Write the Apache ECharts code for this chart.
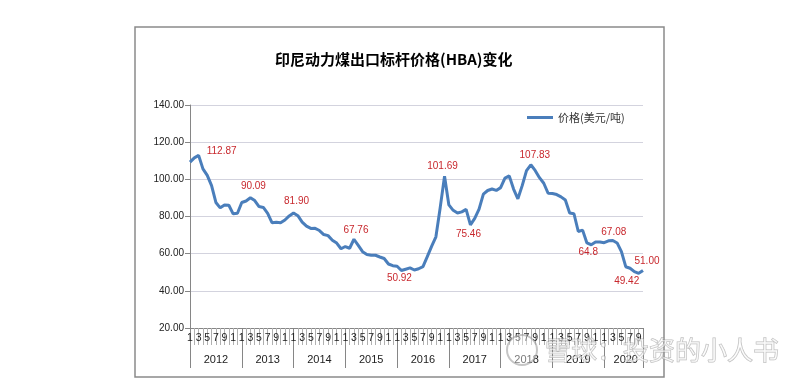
<!DOCTYPE html>
<html><head><meta charset="utf-8">
<script src="https://cdn.jsdelivr.net/npm/echarts@6/dist/echarts.min.js"></script>
<style>html,body{margin:0;padding:0;background:#fff}#c{width:800px;height:380px}</style>
</head><body><div id="c"></div>
<script>
const titleText = '印尼动力煤出口标杆价格(HBA)变化';
const seriesName = '价格(美元/吨)';
const years = ['2012','2013','2014','2015','2016','2017','2018','2019','2020'];
const monthNames = ['1','2','3','4','5','6','7','8','9','10','11','12'];
// month tick labels as they appear under the axis
const monthTickLabels = ['1','','3','','5','','7','','9','','1',''];
const price2012 = [109.29,111.58,112.87,105.61,102.12,96.65,87.56,84.65,86.21,86.04,81.44,81.75];
const price2013 = [87.55,88.35,90.09,88.56,85.33,84.87,81.69,76.70,76.89,76.61,78.13,80.31];
const price2014 = [81.90,80.44,77.01,74.81,73.60,73.64,72.45,70.29,69.69,67.26,65.70,62.65];
const price2015 = [63.84,62.92,67.76,64.48,61.08,59.59,59.16,59.14,58.21,57.39,54.43,53.51];
const price2016 = [53.20,50.92,51.62,52.32,51.20,51.87,53.00,58.37,63.93,69.07,84.89,101.69];
const price2017 = [86.23,83.32,81.90,82.51,83.81,75.46,78.95,83.97,92.03,93.99,94.80,94.04];
const price2018 = [95.54,100.69,101.86,94.75,89.53,96.61,104.65,107.83,104.81,100.89,97.90,92.51];
const price2019 = [92.41,91.80,90.57,88.85,81.86,81.48,71.92,72.67,65.79,64.80,66.27,66.30];
const price2020 = [65.93,66.89,67.08,65.77,61.11,52.98,52.16,50.34,49.42,51.00];
const yTicks = [20,40,60,80,100,120,140];
// annotated points: category (year-month) and shown text
const labelCats = ['2012-3','2013-3','2014-1','2015-3','2016-2','2016-12','2017-6','2018-8','2019-10','2020-3','2020-9','2020-10'];
const labelTexts = ['112.87','90.09','81.90','67.76','50.92','101.69','75.46','107.83','64.8','67.08','49.42','51.00'];

const yearPrices = [price2012,price2013,price2014,price2015,price2016,price2017,price2018,price2019,price2020];
const cats = [], prices = [], tickText = [], yearLabelIdx = [];
yearPrices.forEach((arr, yi) => {
  yearLabelIdx.push(cats.length + Math.floor(arr.length / 2));
  arr.forEach((v, m) => {
    cats.push(years[yi] + '-' + monthNames[m]); prices.push(v); tickText.push(monthTickLabels[m]);
  });
});
const n = cats.length;
// label offsets (style only)
const offs = [[23,-4],[3,-11],[3,-12],[2,-9],[-2,8],[-2,-10],[-2,9],[4,-10],[-3,8],[1,-8],[-12,8],[4,-9]];

const chart = echarts.init(document.getElementById('c'), null, {renderer:'canvas'});
chart.setOption({
  animation: false,
  backgroundColor: '#fff',
  title: {
    text: titleText, left: 270, top: 47,
    textStyle: {fontSize: 15, fontWeight: 'bold', color: '#000', fontFamily: '"Noto Sans CJK SC", sans-serif'}
  },
  legend: {
    data: [seriesName], left: 527, top: 112, padding: 0, icon: 'rect', itemWidth: 26, itemHeight: 3, itemGap: 4,
    textStyle: {fontSize: 11, color: '#333', fontFamily: '"Noto Sans CJK SC", sans-serif'}
  },
  grid: {left: 190, right: 157, top: 105, bottom: 52, containLabel: false},
  xAxis: [{
    type: 'category', data: cats, boundaryGap: false,
    axisLine: {lineStyle: {color: '#868686', width: 1}},
    axisTick: {show: true, interval: 0, length: 17, lineStyle: {color: '#b0b0b0'}},
    axisLabel: {interval: 0, formatter: (v, i) => tickText[i], fontSize: 10.5, color: '#222', margin: 5,
      fontFamily: '"Liberation Sans", Arial, sans-serif'},
    splitLine: {show: false}
  }, {
    type: 'category', data: cats, boundaryGap: false, position: 'bottom',
    axisLine: {show: false},
    axisTick: {show: true, interval: (i) => (i % 12 === 0 || i === n - 1), length: 40, lineStyle: {color: '#868686'}},
    axisLabel: {interval: (i) => yearLabelIdx.indexOf(i) >= 0, formatter: v => v.split('-')[0],
      fontSize: 11, color: '#222', margin: 26, fontFamily: '"Liberation Sans", Arial, sans-serif'},
    splitLine: {show: false}
  }],
  yAxis: {
    type: 'value', min: yTicks[0], max: yTicks[yTicks.length-1], interval: 20,
    axisLine: {show: true, lineStyle: {color: '#868686'}},
    axisTick: {show: true, length: 5, lineStyle: {color: '#868686'}},
    axisLabel: {formatter: v => v.toFixed(2), fontSize: 10, color: '#222', margin: 6,
      fontFamily: '"Liberation Sans", Arial, sans-serif'},
    splitLine: {lineStyle: {color: '#d3d3de', width: 1}}
  },
  series: [{
    name: seriesName, type: 'line', data: prices, xAxisIndex: 0, symbol: 'none',
    lineStyle: {color: '#4a7ebb', width: 3}, itemStyle: {color: '#4a7ebb'},
    markPoint: {
      symbol: 'circle', symbolSize: 1, itemStyle: {color: 'rgba(0,0,0,0)'},
      data: labelCats.map((c, k) => ({
        coord: [c, prices[cats.indexOf(c)]], value: labelTexts[k],
        label: {show: true, position: 'inside', offset: offs[k], formatter: labelTexts[k],
          fontSize: 10, color: '#c8282d', fontFamily: '"Liberation Sans", Arial, sans-serif'}
      }))
    }
  }],
  graphic: [
    {type: 'rect', z: 0, silent: true, shape: {x: 135, y: 27, width: 529, height: 350},
     style: {fill: 'none', stroke: '#8a8a8a', lineWidth: 1.5}},
    {type: 'circle', z: 100, silent: true, shape: {cx: 522, cy: 350, r: 15},
     style: {fill: 'rgba(255,255,255,0.4)', stroke: 'rgba(150,150,150,0.55)', lineWidth: 2}},
    {type: 'text', z: 100, silent: true, x: 545, y: 350,
     style: {text: '雪球：投资的小人书', font: '26px "Noto Sans CJK SC"', fill: 'rgba(255,255,255,0.55)',
       stroke: 'rgba(140,140,140,0.6)', lineWidth: 1, verticalAlign: 'middle'}}
  ]
});
</script></body></html>
